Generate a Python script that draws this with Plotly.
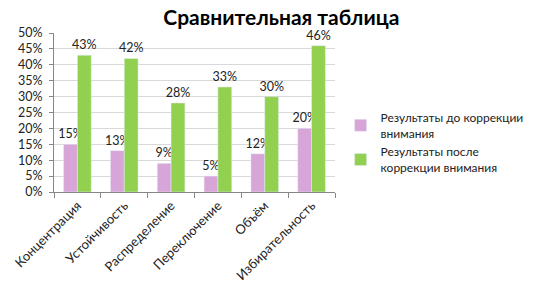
import plotly.graph_objects as go

categories = ["Концентрация", "Устойчивость", "Распределение", "Переключение", "Объём", "Избирательность"]
before = [0.15, 0.13, 0.09, 0.05, 0.12, 0.20]
after = [0.43, 0.42, 0.28, 0.33, 0.30, 0.46]
series_names = ["Результаты до коррекции<br>внимания", "Результаты после<br>коррекции внимания"]
y_ticks = [0, 0.05, 0.10, 0.15, 0.20, 0.25, 0.30, 0.35, 0.40, 0.45, 0.50]

FONT = "Lato, Carlito, Calibri, sans-serif"

fig = go.Figure()
fig.add_trace(go.Bar(
    x=categories, y=before, name=series_names[0],
    marker=dict(color="#D7A5D8"),
    text=[f"{v*100:.0f}%" for v in before], textposition="outside",
    constraintext="none",
    textfont=dict(size=12.5, color="#222222", family=FONT), cliponaxis=False,
))
fig.add_trace(go.Bar(
    x=categories, y=after, name=series_names[1],
    marker=dict(color="#92D050"),
    text=[f"{v*100:.0f}%" for v in after], textposition="outside",
    constraintext="none",
    textfont=dict(size=12.5, color="#222222", family=FONT), cliponaxis=False,
))

fig.update_layout(
    width=541, height=295,
    margin=dict(l=54, r=202, t=33, b=103),
    paper_bgcolor="white", plot_bgcolor="white",
    font=dict(family=FONT, size=12, color="#222222"),
    title=dict(text="<b>Сравнительная таблица</b>", x=0.52, xanchor="center",
               y=0.94, yanchor="middle", font=dict(size=21, color="black", family=FONT)),
    barmode="group", bargap=0.41, bargroupgap=0,
    showlegend=True,
    legend=dict(x=1.02, y=0.31, xanchor="left", yanchor="middle",
                font=dict(size=12, color="#222222"), tracegroupgap=8,
                itemwidth=30),
)
fig.update_xaxes(tickangle=-45, showline=True, linecolor="#868686",
                 ticks="outside", ticklen=5, tickcolor="#868686",
                 tickson="boundaries", tickfont=dict(size=13), automargin=False)
fig.update_yaxes(range=[0, 0.5], tickvals=y_ticks, tickformat=".0%",
                 showgrid=True, gridcolor="#D9D9D9", showline=True,
                 linecolor="#868686", zeroline=False, ticks="outside",
                 ticklen=4, tickcolor="#868686", ticklabelstandoff=4,
                 tickfont=dict(size=12.5), automargin=False)

fig.write_html("out.html", post_script="document.body.style.margin='0';",
               config={"displayModeBar": False})
